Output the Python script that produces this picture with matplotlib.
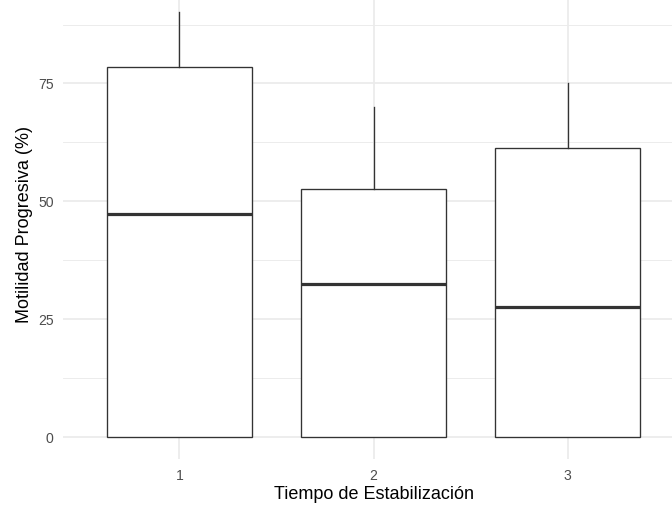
import matplotlib.pyplot as plt
from matplotlib.ticker import MultipleLocator

plt.rcParams['font.family'] = ['Liberation Sans', 'DejaVu Sans']

# resumen de cada grupo (mínimo, Q1, mediana, Q3, máximo)
grupos = ["1", "2", "3"]
minimos = [0, 0, 0]
q1 = [0, 0, 0]
medianas = [47.4, 32.5, 27.6]
q3 = [78.6, 52.6, 61.3]
maximos = [90.1, 70.0, 75.2]

stats = []
for g, lo, a, m, b, hi in zip(grupos, minimos, q1, medianas, q3, maximos):
    stats.append({"label": g, "whislo": lo, "q1": a, "med": m, "q3": b, "whishi": hi, "fliers": []})

fig = plt.figure(figsize=(7, 508 / 96), dpi=96)
ax = fig.add_axes([63 / 672, (508 - 458.7) / 508, 621 / 672, 467.7 / 508])

ax.bxp(stats, positions=[1, 2, 3], widths=0.75, patch_artist=True, showcaps=False,
       boxprops=dict(facecolor="white", edgecolor="#333333", linewidth=1.0),
       whiskerprops=dict(color="#333333", linewidth=1.0),
       medianprops=dict(color="#333333", linewidth=2.4, solid_capstyle="butt"),
       zorder=3)

ax.set_xlim(0.4, 3.6)
ax.set_ylim(-4.505, 94.6)
ax.set_xticks([1, 2, 3])
ax.set_xticklabels(grupos)
ax.yaxis.set_major_locator(MultipleLocator(25))
ax.yaxis.set_minor_locator(MultipleLocator(12.5))

# estilo minimalista: solo cuadrícula
for s in ax.spines.values():
    s.set_visible(False)
ax.grid(True, which="major", color="#EBEBEB", linewidth=1.3, zorder=0)
ax.grid(True, which="minor", axis="y", color="#EBEBEB", linewidth=0.7, zorder=0)
ax.tick_params(which="both", length=0, labelsize=10.5, labelcolor="#4D4D4D")
ax.tick_params(axis="x", pad=8)
ax.tick_params(axis="y", pad=7)

ax.set_xlabel("Tiempo de Estabilización", fontsize=13.5, color="black", labelpad=2)
ax.set_ylabel("Motilidad Progresiva (%)", fontsize=13.5, color="black", labelpad=4)

fig.savefig("out.png", dpi=96)
